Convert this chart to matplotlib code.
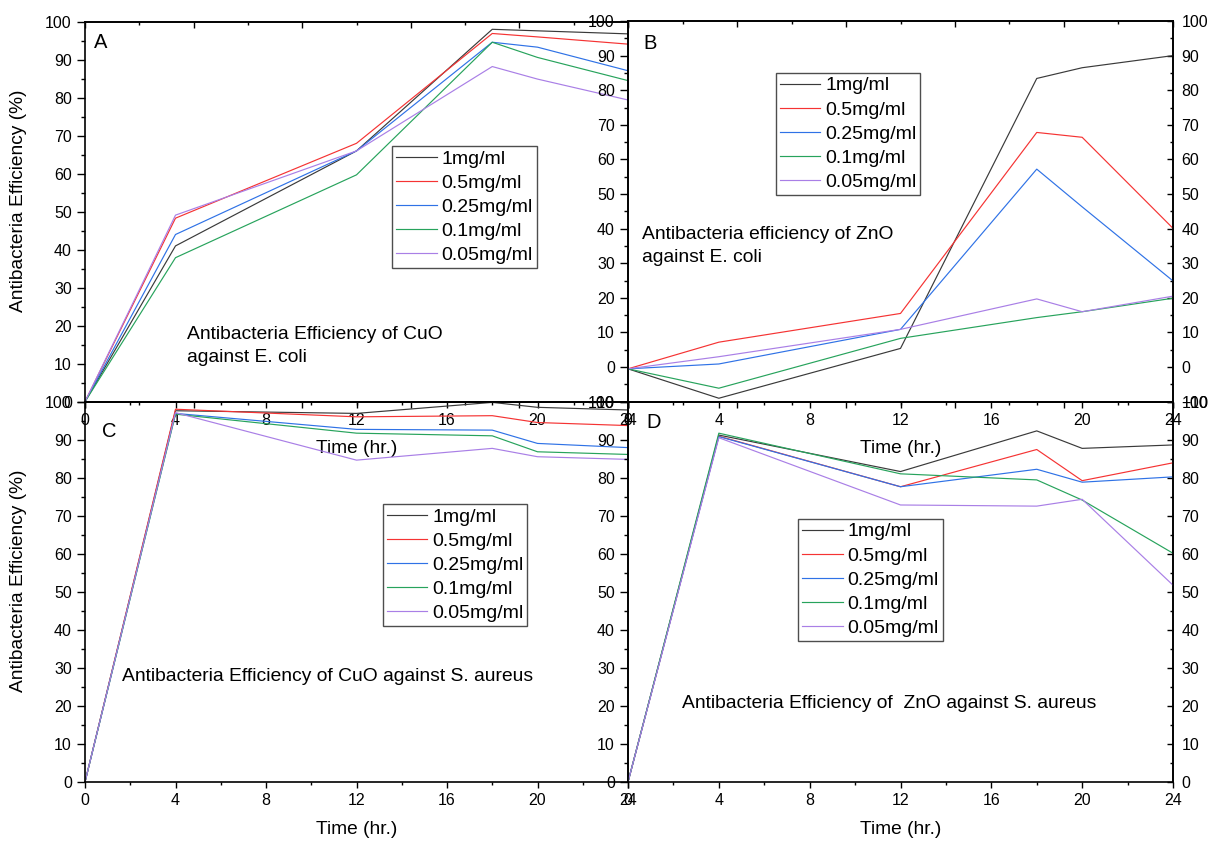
import matplotlib
matplotlib.use("Agg")
import matplotlib.pyplot as plt
from matplotlib.ticker import MultipleLocator, NullFormatter

plt.rcParams['font.family'] = ['Liberation Sans', 'DejaVu Sans']

hours = [0, 4, 12, 18, 20, 24]
doses = ['1mg/ml', '0.5mg/ml', '0.25mg/ml', '0.1mg/ml', '0.05mg/ml']
colors = ['#3a3a3a', '#f53333', '#2f72e6', '#27a35c', '#a97fe6']

# antibacterial efficiency (%), one row per dose, columns follow `hours`
cuo_ecoli = [
    [0, 41.0, 66.0, 98.0, 97.6, 96.8],
    [0, 48.3, 68.0, 96.9, 96.0, 94.1],
    [0, 44.0, 66.0, 94.6, 93.3, 87.1],
    [0, 37.9, 59.7, 94.6, 90.6, 84.5],
    [0, 49.1, 66.0, 88.2, 84.9, 79.4],
]
zno_ecoli = [
    [-0.5, -9.0, 5.4, 83.4, 86.5, 90.0],
    [-0.5, 7.2, 15.5, 67.8, 66.4, 40.1],
    [-0.5, 0.9, 10.9, 57.2, 46.3, 24.9],
    [-0.5, -6.1, 8.3, 14.3, 16.0, 19.9],
    [-0.5, 3.0, 10.9, 19.7, 16.0, 20.5],
]
cuo_saureus = [
    [0, 97.7, 97.0, 99.9, 98.6, 97.9],
    [0, 98.1, 96.1, 96.4, 94.6, 93.8],
    [0, 97.0, 92.8, 92.6, 89.1, 88.0],
    [0, 96.8, 91.8, 91.1, 86.9, 86.2],
    [0, 97.2, 84.7, 87.8, 85.6, 84.9],
]
zno_saureus = [
    [0, 91.3, 81.7, 92.4, 87.8, 88.7],
    [0, 91.0, 77.7, 87.5, 79.3, 84.0],
    [0, 90.9, 77.7, 82.3, 78.9, 80.3],
    [0, 91.8, 81.1, 79.5, 74.2, 60.2],
    [0, 90.6, 72.9, 72.6, 74.4, 51.8],
]

W, H = 1210, 841
fig = plt.figure(figsize=(W / 100, H / 100), dpi=100)


def px(x, y):
    return x / W, 1 - y / H


def panel(rect, data, ylim, letter, letter_xy, note, note_xy, leg_xy, right_axis, ylabel):
    ax = fig.add_axes(rect)
    ax.set_facecolor('none')
    for vals, c, lab in zip(data, colors, doses):
        ax.plot(hours, vals, color=c, lw=0.85, label=lab)
    ax.set_xlim(0, 24)
    ax.set_ylim(*ylim)
    ax.xaxis.set_major_locator(MultipleLocator(4))
    ax.xaxis.set_minor_locator(MultipleLocator(2))
    ax.yaxis.set_major_locator(MultipleLocator(10))
    ax.yaxis.set_minor_locator(MultipleLocator(5))
    ax.tick_params(axis='both', which='both', direction='out', top=False, right=False,
                   labelsize=11.5, width=1.0)
    ax.tick_params(axis='y', which='major', length=6, pad=3.5)
    ax.tick_params(axis='y', which='minor', length=3)
    ax.tick_params(axis='x', which='major', length=4.5, pad=3.5)
    ax.tick_params(axis='x', which='minor', length=2.5)
    for s in ax.spines.values():
        s.set_linewidth(1.2)

    # top axis: ten equal divisions, ticks pointing inward
    top = ax.secondary_xaxis('top', functions=(lambda x: x / 2.4, lambda x: x * 2.4))
    top.xaxis.set_major_locator(MultipleLocator(2))
    top.xaxis.set_minor_locator(MultipleLocator(1))
    top.xaxis.set_major_formatter(NullFormatter())
    top.tick_params(which='major', direction='in', length=4, width=1.0)
    top.tick_params(which='minor', direction='in', length=2.5, width=1.0)
    top.spines['top'].set_linewidth(1.2)

    if right_axis:
        r = ax.secondary_yaxis('right')
        r.yaxis.set_major_locator(MultipleLocator(10))
        r.yaxis.set_minor_locator(MultipleLocator(5))
        r.tick_params(which='major', direction='in', length=4, width=1.0, pad=6, labelsize=11.5)
        r.tick_params(which='minor', direction='in', length=2, width=1.0)
        r.spines['right'].set_linewidth(1.2)

    ax.set_xlabel('Time (hr.)', fontsize=13.8, va='center')
    ax.xaxis.set_label_coords(0.5, -0.124)
    if ylabel:
        ax.set_ylabel('Antibacteria Efficiency (%)', fontsize=13.8, va='center')
        ax.yaxis.set_label_coords(-0.1225, 0.53)

    ax.text(*letter_xy, letter, transform=ax.transAxes, fontsize=14.5, va='center', ha='left')
    ax.text(*note_xy, note, transform=ax.transAxes, fontsize=13.9, va='center', ha='left',
            linespacing=1.45)

    leg = ax.legend(loc='upper left', bbox_to_anchor=px(*leg_xy), bbox_transform=fig.transFigure,
                    borderaxespad=0, fontsize=14, frameon=True, fancybox=False,
                    borderpad=0.2, labelspacing=0.33, handlelength=2.1, handletextpad=0.25)
    leg.get_frame().set_edgecolor('#222222')
    leg.get_frame().set_linewidth(1.0)
    return ax


ax_a = panel([0.07025, 0.52235, 0.44876, 0.45184], cuo_ecoli, (0, 100),
             'A', (0.017, 0.944),
             'Antibacteria Efficiency of CuO\nagainst E. coli', (0.188, 0.147),
             (392, 146), False, True)
ax_b = panel([0.51901, 0.52235, 0.45041, 0.45268], zno_ecoli, (-10, 100),
             'B', (0.029, 0.94),
             'Antibacteria efficiency of ZnO\nagainst E. coli', (0.025, 0.41),
             (775.7, 73), True, False)
ax_c = panel([0.07025, 0.07015, 0.44876, 0.45184], cuo_saureus, (0, 100),
             'C', (0.031, 0.922),
             'Antibacteria Efficiency of CuO against S. aureus', (0.0676, 0.277),
             (382.7, 504.3), False, True)
ax_d = panel([0.51901, 0.07015, 0.45041, 0.45184], zno_saureus, (0, 100),
             'D', (0.034, 0.947),
             'Antibacteria Efficiency of  ZnO against S. aureus', (0.099, 0.207),
             (798, 519), True, False)

fig.savefig('out.png', dpi=100)
